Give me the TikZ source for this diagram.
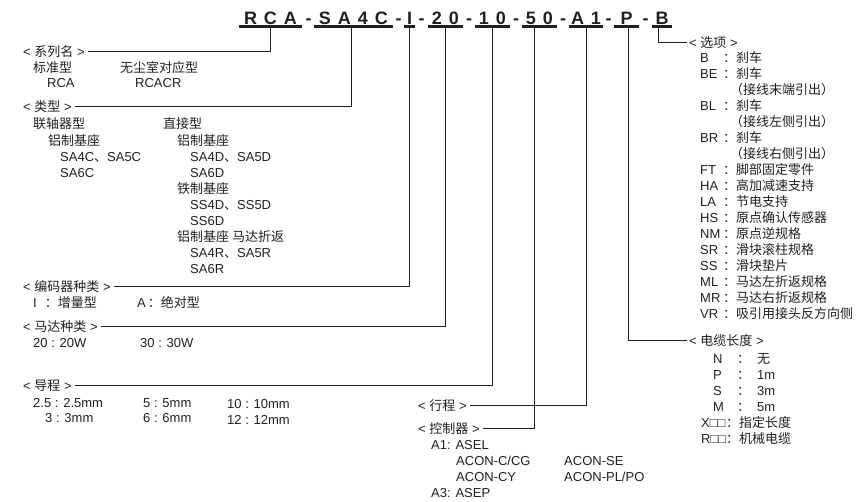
\documentclass[tikz,border=0pt]{standalone}
\usepackage{fontspec}
\setmainfont{Liberation Sans}
\newfontfamily\zhfont{Noto Sans CJK SC}
\newcommand\cn[1]{{\zhfont #1}}
\usepackage{tikz}
\definecolor{ink}{RGB}{35,31,32}
\newcommand\ls{\kern7pt}

\begin{document}
\begin{tikzpicture}[x=1pt, y=-1pt,
    txt/.style={anchor=west, inner sep=0pt, text=ink, font=\fontsize{13}{15}\selectfont, text height=10pt, text depth=0pt},
    lbl/.style={txt, inner xsep=3pt},
    seg/.style={inner sep=0pt, text=ink, font=\fontsize{18}{20}\selectfont\bfseries, text height=13pt, text depth=2.5pt},
    uline/.style={draw=ink, line width=3pt},
    link/.style={draw=ink, line width=1pt}]
    \useasboundingbox (0,0) rectangle (864,501);

    % model code
    \foreach \nm/\cx/\w/\txt in {rca/270.5/63/{R\ls C\ls A}, sa/353.5/79/{S\ls A\ls 4\ls C}, enc/409.5/11/I,
        mot/445.5/35/{2\ls 0}, lead/492.5/35/{1\ls 0}, strk/539.5/35/{5\ls 0}, ctl/586/34/{A\ls 1},
        cab/626.5/25/P, opt/662/20/B} {
        \node[seg, minimum width=\w*1pt] (\nm) at (\cx,18.75) {\txt};
        \draw[uline] (\nm.south west) -- (\nm.south east);
    }
    \foreach \hx [count=\i] in {308.5,398.5,421.5,469,516,563,608.5,645.5}
        \node[seg] (hy\i) at (\hx,18.75) {-};

    % series
    \node[lbl] (lSeries) at (20,51) {< \cn{系列名} >};
    \node[txt] (stdType) at (33,67) {\cn{标准型}};
    \node[txt] (stdCode) at (47,82) {RCA};
    \node[txt] (crType) at (120,67) {\cn{无尘室对应型}};
    \node[txt] (crCode) at (135,82) {RCACR};

    % type
    \node[lbl] (lType) at (20,106) {< \cn{类型} >};
    \node[txt] (cplType) at (33,123) {\cn{联轴器型}};
    \node[txt] (cplBase) at (48,140) {\cn{铝制基座}};
    \node[txt] (cplA) at (60,156) {SA4C\cn{、}SA5C};
    \node[txt] (cplB) at (60,172) {SA6C};
    \node[txt] (dirType) at (163,123) {\cn{直接型}};
    \node[txt] (alBase) at (177,140) {\cn{铝制基座}};
    \node[txt] (alA) at (190,156) {SA4D\cn{、}SA5D};
    \node[txt] (alB) at (190,172) {SA6D};
    \node[txt] (feBase) at (177,188) {\cn{铁制基座}};
    \node[txt] (feA) at (190,204) {SS4D\cn{、}SS5D};
    \node[txt] (feB) at (190,220) {SS6D};
    \node[txt] (rvBase) at (177,236) {\cn{铝制基座 马达折返}};
    \node[txt] (rvA) at (190,252) {SA4R\cn{、}SA5R};
    \node[txt] (rvB) at (190,268) {SA6R};

    % encoder
    \node[lbl] (lEnc) at (20,286) {< \cn{编码器种类} >};
    \node[txt] (encI) at (33,302) {I\hspace{8pt}\cn{：增量型}};
    \node[txt] (encA) at (137,302) {A\hspace{2pt}\cn{：绝对型}};

    % motor
    \node[lbl] (lMotor) at (20,326) {< \cn{马达种类} >};
    \node[txt] (mot20) at (33,342) {20 : 20W};
    \node[txt] (mot30) at (140,342) {30 : 30W};

    % lead
    \node[lbl] (lLead) at (20,385) {< \cn{导程} >};
    \node[txt] (ld25) at (33,402) {2.5 : 2.5mm};
    \node[txt] (ld3) at (45,417) {3 : 3mm};
    \node[txt] (ld5) at (143,402) {5 : 5mm};
    \node[txt] (ld6) at (143,417) {6 : 6mm};
    \node[txt] (ld10) at (227,403) {10 : 10mm};
    \node[txt] (ld12) at (227,419) {12 : 12mm};

    % stroke, controller
    \node[lbl] (lStroke) at (415,405) {< \cn{行程} >};
    \node[lbl] (lCtrl) at (415,428) {< \cn{控制器} >};
    \node[txt] (ctlA1) at (431,444) {A1: ASEL};
    \node[txt] (ctlC) at (456,460) {ACON-C/CG};
    \node[txt] (ctlCY) at (456,476) {ACON-CY};
    \node[txt] (ctlA3) at (431,492) {A3: ASEP};
    \node[txt] (ctlSE) at (564,460) {ACON-SE};
    \node[txt] (ctlPL) at (564,476) {ACON-PL/PO};

    % options
    \node[lbl, inner xsep=2pt] (lOpt) at (687,42) {< \cn{选项} >};
    \foreach \code/\desc [count=\i] in {B/：刹车, BE/：刹车, /\kern7pt（接线末端引出）, BL/：刹车, /\kern7pt（接线左侧引出）,
        BR/：刹车, /\kern7pt（接线右侧引出）, FT/：脚部固定零件, HA/：高加减速支持, LA/：节电支持,
        HS/：原点确认传感器, NM/：原点逆规格, SR/：滑块滚柱规格, SS/：滑块垫片, ML/：马达左折返规格,
        MR/：马达右折返规格, VR/：吸引用接头反方向侧}
        \node[txt] (opt\i) at (700,41+16*\i) {\makebox[23pt][l]{\code}\cn{\desc}};

    % cable length
    \node[lbl, inner xsep=2pt] (lCable) at (687,340) {< \cn{电缆长度} >};
    \foreach \code/\val [count=\i] in {N/\cn{无}, P/1m, S/3m, M/5m}
        \node[txt] (cl\i) at (713,342+16*\i) {\makebox[24pt][l]{\code}\cn{：}\hspace{7pt}\val};
    \node[txt] (clX) at (701,422) {\makebox[25pt][l]{X□□}\cn{：指定长度}};
    \node[txt] (clR) at (701,438) {\makebox[25pt][l]{R□□}\cn{：机械电缆}};

    % connectors
    \draw[link] (rca.south) |- (lSeries.east);
    \draw[link] ([xshift=-2.5pt]sa.south) |- (lType.east);
    \draw[link] (enc.south) |- (lEnc.east);
    \draw[link] (mot.south) |- (lMotor.east);
    \draw[link] (lead.south) |- (lLead.east);
    \draw[link] ([xshift=-5.5pt]strk.south) |- (lCtrl.east);
    \draw[link] (ctl.south) |- (lStroke.east);
    \draw[link] ([xshift=1.5pt]cab.south) |- (lCable.west);
    \draw[link] ([xshift=-4pt]opt.south) |- (lOpt.west);
\end{tikzpicture}
\end{document}
